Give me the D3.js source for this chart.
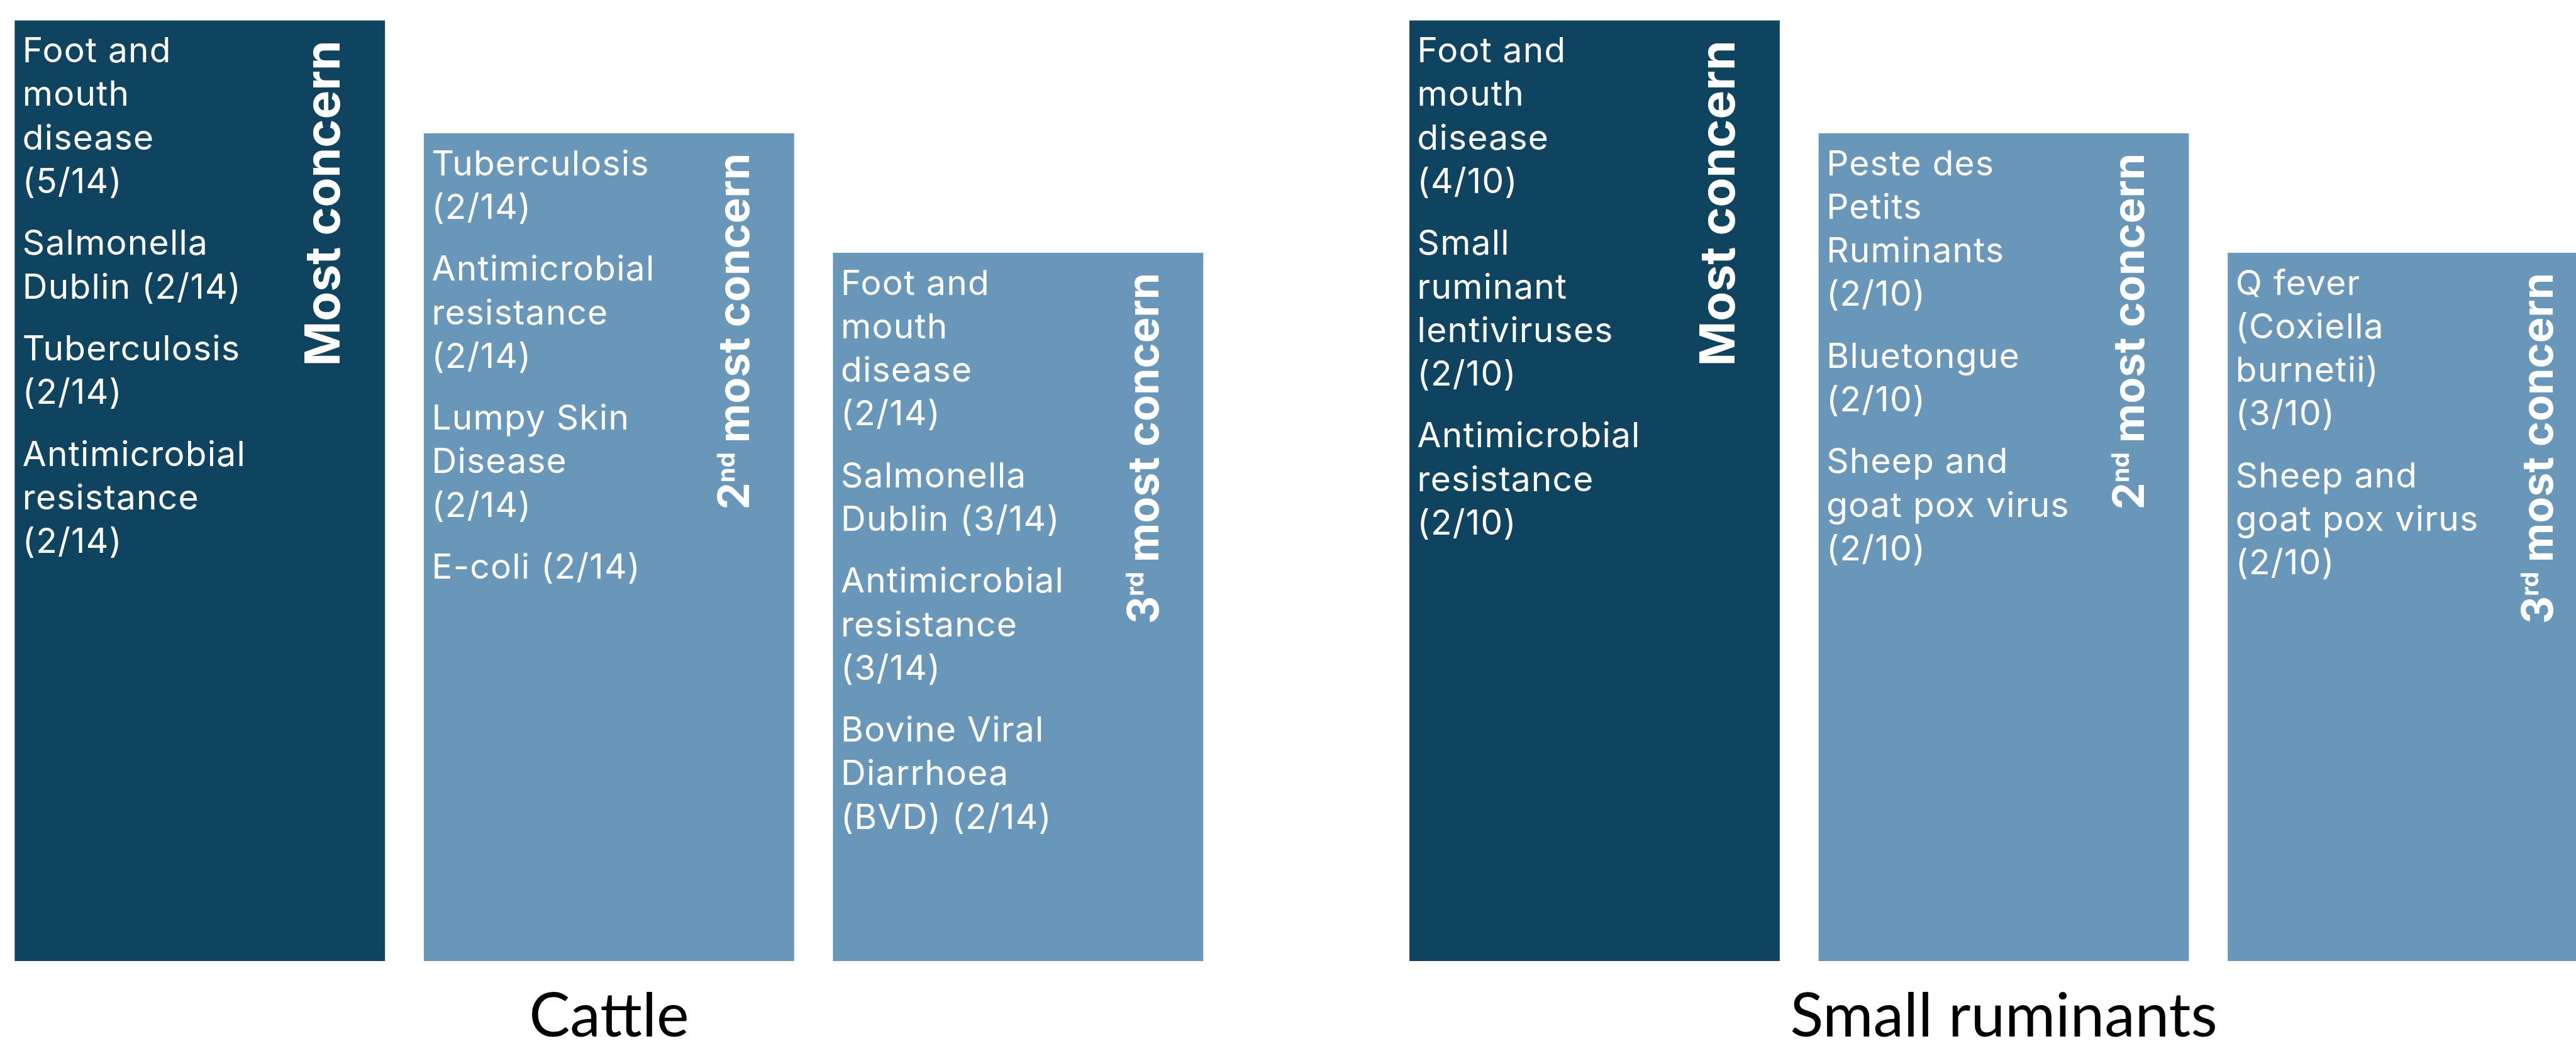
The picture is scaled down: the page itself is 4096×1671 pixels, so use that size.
<!DOCTYPE html>
<html>
<head>
<meta charset="utf-8">
<script src="https://cdnjs.cloudflare.com/ajax/libs/d3/7.8.5/d3.min.js"></script>
<style>
  html, body { margin: 0; padding: 0; background: #fff; overflow: hidden; }
</style>
</head>
<body>
<svg id="chart"></svg>
<script>
// groups and the three concern ranks
const groups = ["Cattle", "Small ruminants"];
const ranks = ["1", "2", "3"];
const rankTitles = [["Most concern"], ["2", "nd", "most concern"], ["3", "rd", "most concern"]];

// podium height of each rank (relative)
const rankLevels = [100, 88, 75.3];

// diseases listed in each box, one entry per disease, pre-broken into lines
const cattleItems = [
  [["Foot and", "mouth", "disease", "(5/14)"], ["Salmonella", "Dublin (2/14)"], ["Tuberculosis", "(2/14)"], ["Antimicrobial", "resistance", "(2/14)"]],
  [["Tuberculosis", "(2/14)"], ["Antimicrobial", "resistance", "(2/14)"], ["Lumpy Skin", "Disease", "(2/14)"], ["E-coli (2/14)"]],
  [["Foot and", "mouth", "disease", "(2/14)"], ["Salmonella", "Dublin (3/14)"], ["Antimicrobial", "resistance", "(3/14)"], ["Bovine Viral", "Diarrhoea", "(BVD) (2/14)"]]
];
const smallRuminantItems = [
  [["Foot and", "mouth", "disease", "(4/10)"], ["Small", "ruminant", "lentiviruses", "(2/10)"], ["Antimicrobial", "resistance", "(2/10)"]],
  [["Peste des", "Petits", "Ruminants", "(2/10)"], ["Bluetongue", "(2/10)"], ["Sheep and", "goat pox virus", "(2/10)"]],
  [["Q fever", "(Coxiella", "burnetii)", "(3/10)"], ["Sheep and", "goat pox virus", "(2/10)"]]
];
const itemsByGroup = [cattleItems, smallRuminantItems];

const W = 4096, H = 1671;
const k = W / 4911; // reference drawn in 4911 units, scaled down to the window
const dark = "#0e4460", light = "#6897ba";

const svg = d3.select("#chart").attr("width", W).attr("height", H);
const g = svg.append("g").attr("transform", `scale(${k})`);

// layout in reference units
const x0 = d3.scaleBand()
  .domain(groups)
  .range([28, 4953])
  .paddingInner(0.1478)
  .paddingOuter(0);

const x1 = d3.scaleBand()
  .domain(ranks)
  .range([0, x0.bandwidth()])
  .paddingInner(0.0949)
  .paddingOuter(0);

const y = d3.scaleLinear().domain([0, 100]).range([1832, 39]);

const bodyFont = "Inter, 'Noto Sans', sans-serif";
const lineH = 83, paraGap = 35;

groups.forEach((grp, gi) => {
  const gx = x0(grp);
  const gg = g.append("g").attr("transform", `translate(${gx},0)`);

  const bars = gg.selectAll(".bar")
    .data(ranks.map((r, i) => ({ rank: r, i: i, level: rankLevels[i], items: itemsByGroup[gi][i] })))
    .enter().append("g")
    .attr("class", "bar")
    .attr("transform", d => `translate(${x1(d.rank)},0)`);

  bars.append("rect")
    .attr("x", 0)
    .attr("y", d => y(d.level))
    .attr("width", x1.bandwidth())
    .attr("height", d => y(0) - y(d.level))
    .attr("fill", d => d.i === 0 ? dark : light);

  // disease list
  bars.each(function(d) {
    const sel = d3.select(this);
    let yy = y(d.level) + 80;
    d.items.forEach(lines => {
      const t = sel.append("text")
        .attr("fill", "#fff")
        .style("font-family", bodyFont)
        .style("font-size", "66px")
        .style("letter-spacing", "1.5px");
      lines.forEach((ln, li) => {
        t.append("tspan").attr("x", 15).attr("y", yy + li * lineH).text(ln);
      });
      yy += lines.length * lineH + paraGap;
    });

    // rotated rank title
    const parts = rankTitles[d.i];
    const tt = sel.append("text")
      .attr("transform", `translate(${620},${y(d.level) + 38}) rotate(-90)`)
      .attr("text-anchor", "end")
      .attr("fill", "#fff")
      .style("font-family", bodyFont)
      .style("font-weight", 700)
      .style("font-size", parts.length === 1 ? "92px" : "82px");
    if (parts.length === 1) {
      tt.text(parts[0]);
    } else {
      tt.append("tspan").text(parts[0]);
      tt.append("tspan").attr("dy", -28).style("font-size", "46px").text(parts[1]);
      tt.append("tspan").attr("dy", 28).attr("dx", 18).text(parts[2]);
    }
  });

  // group label
  g.append("text")
    .attr("x", gx + x0.bandwidth() / 2)
    .attr("y", 1976)
    .attr("text-anchor", "middle")
    .attr("fill", "#000")
    .style("font-family", "Lato, 'Open Sans', sans-serif")
    .style("font-size", "117px")
    .text(grp);
});
</script>
</body>
</html>
